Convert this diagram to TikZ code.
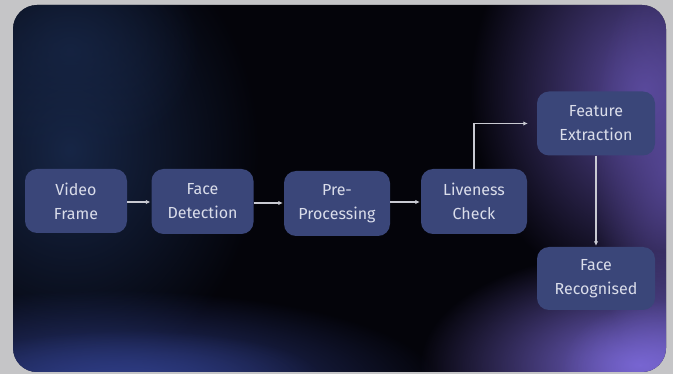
\documentclass[tikz,border=0pt]{standalone}
\usepackage{fontspec}
\setmainfont{Fira Sans}
\usetikzlibrary{fadings,arrows.meta}

\definecolor{pagegrey}{HTML}{C5C5C7}
\definecolor{panelbase}{HTML}{04040A}
\definecolor{glowblue}{HTML}{2E3C84}
\definecolor{glownavy}{HTML}{172646}
\definecolor{glowviolet}{HTML}{7866D2}
\definecolor{glowplum}{HTML}{5A4A9C}
\definecolor{boxfill}{HTML}{3A4679}
\definecolor{boxtext}{HTML}{DADDEA}
\definecolor{linkgrey}{HTML}{C9CAD2}

% radial soft-edged fading for the background glows
\tikzfading[name=softglow, inner color=transparent!0, outer color=transparent!100]

\tikzset{
  stage/.style={draw=none, fill=boxfill, rounded corners=12pt, align=center,
    text=boxtext, font=\fontsize{16}{24}\selectfont, inner sep=0pt},
  link/.style={draw=linkgrey, line width=1.5pt,
    -{Latex[length=4.5pt,width=4.5pt]}}
}

\begin{document}
\begin{tikzpicture}[x=1pt, y=-1pt]
  % page and canvas
  \fill[pagegrey] (0,0) rectangle (673,374);
  \useasboundingbox (0,0) rectangle (673,374);
  \begin{scope}
    \clip[rounded corners=24pt] (13,5) rectangle (666,372);
    \fill[panelbase] (0,0) rectangle (673,374);
    % soft coloured glows
    \fill[glownavy, path fading=softglow] (-120,-80) rectangle (260,380);
    \fill[glownavy, opacity=0.8, path fading=softglow] (-60,-60) rectangle (200,160);
    \fill[glowblue, path fading=softglow] (-220,290) rectangle (440,480);
    \fill[glowblue, opacity=0.8, path fading=softglow] (-60,330) rectangle (320,420);
    \fill[glowplum, path fading=softglow] (470,-120) rectangle (820,300);
    \fill[glowplum, opacity=0.8, path fading=softglow] (590,-40) rectangle (740,380);
    \fill[glowviolet, path fading=softglow] (420,250) rectangle (860,480);
    \fill[glowviolet, opacity=0.6, path fading=softglow] (560,300) rectangle (760,440);
  \end{scope}

  % pipeline stages
  \node[stage, minimum width=102pt, minimum height=64pt] (vf) at (76,201) {Video\\Frame};
  \node[stage, minimum width=102pt, minimum height=65pt] (fd) at (202.5,201.5) {Face\\Detection};
  \node[stage, minimum width=106pt, minimum height=65pt] (pp) at (337,203.5) {Pre-\\Processing};
  \node[stage, minimum width=106pt, minimum height=65pt] (lc) at (474,201.5) {Liveness\\Check};
  \node[stage, minimum width=118pt, minimum height=64pt] (fe) at (596,123.5) {Feature\\Extraction};
  \node[stage, minimum width=118pt, minimum height=63pt] (fr) at (596,278.5) {Face\\Recognised};

  % connectors
  \draw[link, shorten >=1pt] (vf.east |- 0,202) -- (fd.west |- 0,202);
  \draw[link, shorten >=1pt] (fd.east |- 0,203) -- (pp.west |- 0,203);
  \draw[link, shorten >=1pt] (pp.east |- 0,202) -- (lc.west |- 0,202);
  \draw[link, shorten >=9pt] (lc.north) |- (fe.west);
  \draw[link, shorten >=1pt] (fe.south) -- (fr.north);
\end{tikzpicture}
\end{document}
